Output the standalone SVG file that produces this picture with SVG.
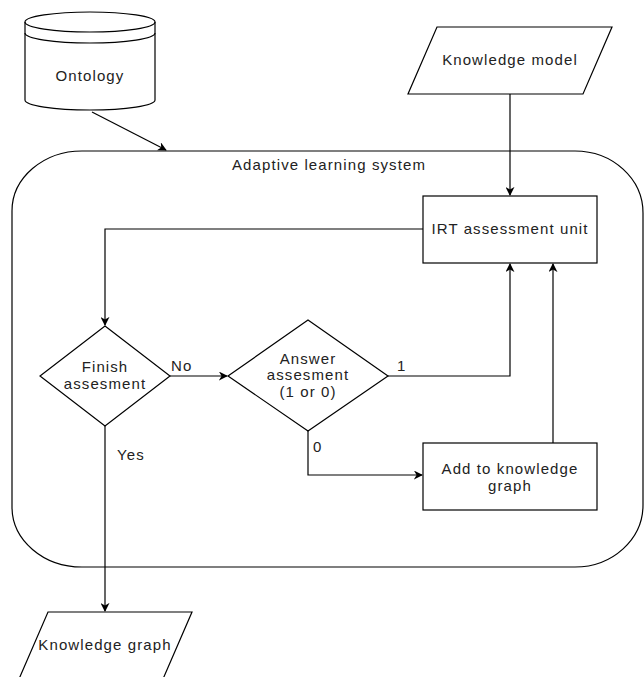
<svg xmlns="http://www.w3.org/2000/svg" width="644" height="677" viewBox="0 0 644 677">
<style>
.s{fill:#fff;stroke:#000;stroke-width:1.2}
.c{fill:none;stroke:#000;stroke-width:1.2}
text{font-family:"Liberation Sans",Arial,sans-serif;font-size:15px;letter-spacing:1.1px;fill:#222;text-anchor:middle}
.l{text-anchor:start}
</style>
<defs>
<marker id="a" viewBox="0 0 10 10" refX="9" refY="5" markerWidth="9" markerHeight="9" markerUnits="userSpaceOnUse" orient="auto">
<path d="M0,0 L10,5 L0,10 L3,5 z" fill="#000"/>
</marker>
</defs>
<g id="container">
<path class="s" d="M82,151 H575 A68,62 0 0 1 643,213 V505 A68,62 0 0 1 575,567 H82 A70,60 0 0 1 12,507 V211 A70,60 0 0 1 82,151 Z"/>
<text x="329" y="170">Adaptive learning system</text>
</g>
<g id="ontology">
<path class="s" d="M25,22 A65,10 0 0 1 155,22 V100 A65,10 0 0 1 25,100 Z"/>
<path class="c" d="M25,22 A65,10 0 0 0 155,22 M25,33 A65,10 0 0 0 155,33"/>
<text x="90" y="81">Ontology</text>
</g>
<g id="knowledge-model">
<polygon class="s" points="437,27 612,27 583,94 408,94"/>
<text x="510" y="65">Knowledge model</text>
</g>
<g id="irt">
<rect class="s" x="423" y="196" width="174" height="67"/>
<text x="510" y="234">IRT assessment unit</text>
</g>
<g id="finish">
<polygon class="s" points="105,326 170,376 105,426 40,376"/>
<text x="105" y="372">Finish</text>
<text x="105" y="389">assesment</text>
</g>
<g id="answer">
<polygon class="s" points="308,320 388,376 308,431 228,376"/>
<text x="308" y="364">Answer</text>
<text x="308" y="380">assesment</text>
<text x="308" y="397">(1 or 0)</text>
</g>
<g id="add">
<rect class="s" x="423" y="443" width="174" height="67"/>
<text x="510" y="474">Add to knowledge</text>
<text x="510" y="491">graph</text>
</g>
<g id="knowledge-graph">
<polygon class="s" points="48,612 192,612 163,679 19,679"/>
<text x="105" y="650">Knowledge graph</text>
</g>
<g id="connectors">
<path class="c" d="M92,112 L166,150" marker-end="url(#a)"/>
<path class="c" d="M510,94 V195" marker-end="url(#a)"/>
<path class="c" d="M423,229 H105 V325" marker-end="url(#a)"/>
<path class="c" d="M170,376 H227" marker-end="url(#a)"/>
<path class="c" d="M388,376 H510 V264" marker-end="url(#a)"/>
<path class="c" d="M308,431 V475 H422" marker-end="url(#a)"/>
<path class="c" d="M553,443 V264" marker-end="url(#a)"/>
<path class="c" d="M105,426 V611" marker-end="url(#a)"/>
<text class="l" x="171" y="371">No</text>
<text class="l" x="397" y="371">1</text>
<text class="l" x="313" y="452">0</text>
<text class="l" x="117" y="460">Yes</text>
</g>
</svg>
